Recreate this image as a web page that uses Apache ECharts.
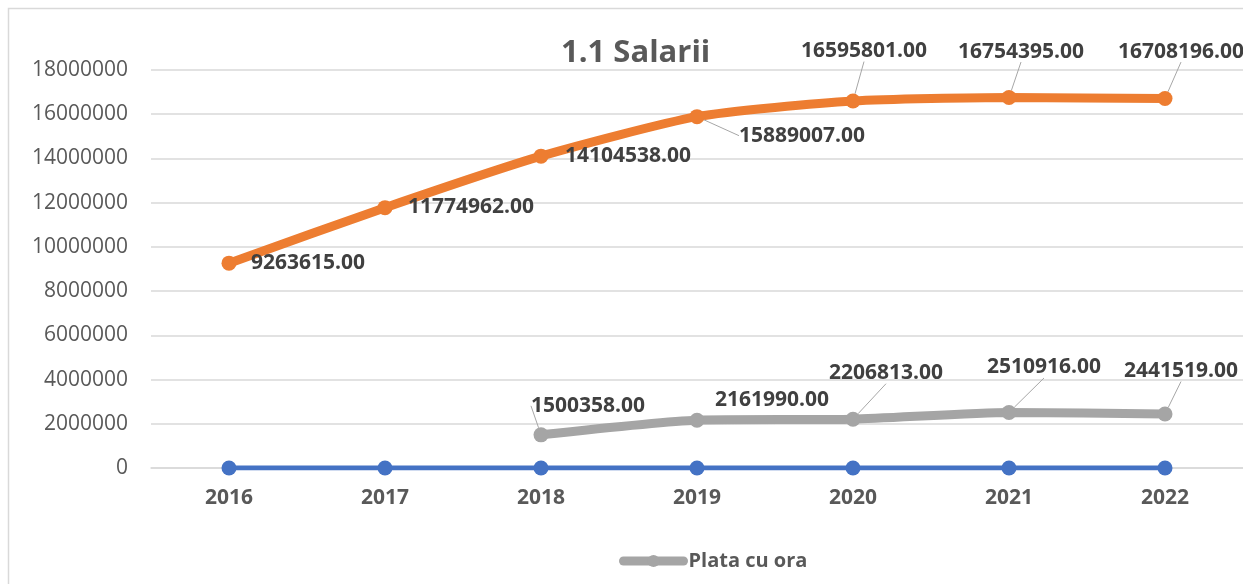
<!DOCTYPE html>
<html>
<head>
<meta charset="utf-8">
<script src="https://cdn.jsdelivr.net/npm/echarts@6/dist/echarts.min.js"></script>
<style>
  html, body { margin: 0; padding: 0; background: #fff; }
  #main { width: 1243px; height: 584px; }
</style>
</head>
<body>
<div id="main"></div>
<script>
// date
var years = ['2016', '2017', '2018', '2019', '2020', '2021', '2022']
var salarii = [9263615, 11774962, 14104538, 15889007, 16595801, 16754395, 16708196]
var plataCuOra = [null, null, 1500358, 2161990, 2206813, 2510916, 2441519]
var zero = [0, 0, 0, 0, 0, 0, 0]
var yTicks = { min: 0, max: 18000000, interval: 2000000 }

// deplasarea etichetelor fata de pozitia 'top' + daca au linie de legatura
var orangeShift = [[79, 23], [86, 22], [87, 23], [105, 42], [11, -27], [12, -23], [16, -24]]
var orangeLine = [false, false, false, true, true, true, true]
var grayShift = [[0, 0], [0, 0], [47, -6], [75, 3], [33, -23], [35, -22], [16, -20]]
var grayLine = [false, false, true, false, true, true, true]

var fontFam = '"Open Sans", "Noto Sans", sans-serif'
var labelStyle = { show: true, position: 'top', distance: 5, fontFamily: fontFam, fontSize: 21, fontWeight: 'bold', color: '#404040', formatter: function (p) { return Number(p.value).toFixed(2) } }

function items(values, lines) {
  return values.map(function (v, i) {
    return { value: v, labelLine: { show: lines[i], lineStyle: { color: '#a6a6a6', width: 1 } } }
  })
}

var chart = echarts.init(document.getElementById('main'))
chart.setOption({
  animation: false,
  textStyle: { fontFamily: fontFam },
  title: {
    text: '1.1 Salarii',
    left: 556,
    top: 33,
    textStyle: { fontFamily: fontFam, fontSize: 31, fontWeight: 'bold', color: '#595959' }
  },
  graphic: [{
    type: 'rect',
    shape: { x: 8.5, y: 8.5, width: 1260, height: 600 },
    style: { fill: 'none', stroke: '#d9d9d9', lineWidth: 1.5 },
    silent: true
  }],
  legend: {
    data: ['Plata cu ora'],
    left: 614,
    top: 546,
    itemWidth: 60,
    itemHeight: 15,
    itemGap: 2,
    lineStyle: { width: 9, cap: 'round' },
    textStyle: { fontFamily: fontFam, fontSize: 20, fontWeight: 'bold', color: '#595959' }
  },
  grid: { left: 151, top: 70, width: 1092, height: 398, containLabel: false },
  xAxis: {
    type: 'category',
    data: years,
    boundaryGap: true,
    axisLine: { show: true, lineStyle: { color: '#d9d9d9', width: 1.5 } },
    axisTick: { show: false },
    axisLabel: { margin: 20, fontFamily: fontFam, fontSize: 21, fontWeight: 'bold', color: '#595959' }
  },
  yAxis: {
    type: 'value',
    min: yTicks.min,
    max: yTicks.max,
    interval: yTicks.interval,
    axisLine: { show: false },
    axisTick: { show: false },
    splitLine: { lineStyle: { color: '#d9d9d9', width: 1.5 } },
    axisLabel: { margin: 23, fontFamily: fontFam, fontSize: 21, color: '#595959', formatter: function (v) { return String(v) } }
  },
  labelLayout: function (p) {
    var s = p.seriesIndex === 1 ? orangeShift : (p.seriesIndex === 2 ? grayShift : null)
    if (!s) return {}
    return { dx: s[p.dataIndex][0], dy: s[p.dataIndex][1] }
  },
  series: [
    {
      name: 'Zero',
      type: 'line',
      data: zero,
      symbol: 'circle',
      symbolSize: 15,
      itemStyle: { color: '#4472c4' },
      lineStyle: { color: '#4472c4', width: 5 }
    },
    {
      name: 'Salarii',
      type: 'line',
      data: items(salarii, orangeLine),
      smooth: 0.2,
      symbol: 'circle',
      symbolSize: 15,
      itemStyle: { color: '#ed7d31' },
      lineStyle: { color: '#ed7d31', width: 9 },
      label: labelStyle,
      labelLine: { show: true, lineStyle: { color: '#a6a6a6', width: 1 } }
    },
    {
      name: 'Plata cu ora',
      type: 'line',
      data: items(plataCuOra, grayLine),
      smooth: 0.2,
      symbol: 'circle',
      symbolSize: 15,
      itemStyle: { color: '#a5a5a5' },
      lineStyle: { color: '#a5a5a5', width: 9 },
      label: labelStyle,
      labelLine: { show: true, lineStyle: { color: '#a6a6a6', width: 1 } }
    }
  ]
})
</script>
</body>
</html>
